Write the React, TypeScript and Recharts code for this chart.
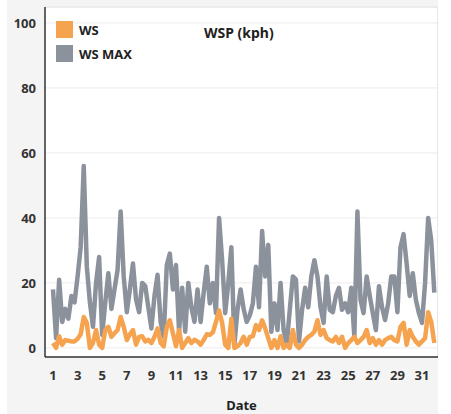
import React from 'react'
import { LineChart, Line, XAxis, YAxis, CartesianGrid, ReferenceLine } from 'recharts'

// 6-hourly samples starting on day 1
const wsMax = [
  18, 3, 21, 8, 12, 9, 16, 14, 22, 31,
  56, 25, 14, 6.5, 20, 28, 4, 14, 23, 12,
  18, 24, 42, 22, 11, 18, 26, 15, 11, 20,
  19, 12.5, 6, 16, 22.5, 8, 3.4, 25.5, 29, 18,
  25.5, 5, 18.5, 5, 20, 12.5, 8, 18, 8, 17,
  25, 13.7, 20, 10.7, 40, 27, 10.7, 20, 31, 1,
  11.7, 18, 12, 8, 10, 13.7, 25, 12.5, 36, 22,
  31.7, 5, 13.7, 5.5, 20, 5.5, 1, 11.7, 22, 21,
  2, 11.7, 18.5, 12.5, 22, 27, 22, 12.5, 7.7, 22,
  11.7, 11, 16, 18.5, 11.7, 13.7, 11, 18.5, 3.4, 42,
  14.8, 10.7, 22, 16, 10.7, 5.5, 19, 12.5, 8.6, 13.7,
  22, 22, 11, 31, 35, 26, 16, 23, 14.8, 10.7,
  7.7, 20, 40, 33, 17,
]

const ws = [
  1.5, 0, 3.6, 1, 2.4, 2.2, 2, 2, 2.8, 4.2,
  9.5, 7.7, 0, 1.5, 5.5, 1, 0, 5.5, 6.5, 3.4,
  4.5, 5.5, 9.5, 6.5, 2.4, 4.2, 5.5, 1, 3.4, 3.6,
  2, 2.5, 1.5, 3.4, 6, 1.5, 0.5, 6.5, 8.5, 4.5,
  0.5, 5.5, 0, 1.5, 3, 1.5, 2.5, 2, 1, 2.4,
  4.2, 4, 4.8, 8, 11.5, 7.7, 1, 0, 9, 0,
  0.5, 1.5, 3.4, 1, 3.4, 3.6, 7, 5.5, 8.5, 6,
  3, 0, 2.4, 0, 3.6, 0, 1, 0, 5.5, 1,
  0, 1, 2.4, 3.4, 4, 5, 8.5, 4, 5.5, 3,
  2.4, 2, 3.4, 1.5, 3.4, 0, 1.5, 2.4, 3.4, 1.5,
  2.4, 3.4, 5.5, 1.5, 3, 1, 2.4, 1, 2.4, 3,
  3.4, 2.4, 2, 6.5, 7.7, 1, 5.5, 3.4, 2, 1,
  2, 3, 11, 8, 1.5,
]

const dayTicks = [1, 3, 5, 7, 9, 11, 13, 15, 17, 19, 21, 23, 25, 27, 29, 31]
const yTicks = [0, 20, 40, 60, 80, 100]

const ORANGE = '#f5a34f'
const GRAY = '#8c929c'
const FONT = '"Noto Sans", sans-serif'

const data = wsMax.map((v, i) => ({ day: 1 + i / 4, wsMax: v, ws: ws[i] }))

const tickStyle = { fontSize: 13, fontWeight: 700, fill: '#333', fontFamily: FONT }

export default function App() {
  return (
    <div style={{ position: 'absolute', left: 7, top: 0, width: 431, height: 414, background: '#f4f4f4' }}>
      <LineChart width={431} height={414} data={data} margin={{ top: 7, right: 0, bottom: 0, left: 0 }}>
        <CartesianGrid vertical={false} stroke="#ececec" fill="#fff" />
        <XAxis
          dataKey="day"
          type="number"
          domain={[0.35, 32.3]}
          ticks={dayTicks}
          tickLine={false}
          tickMargin={8}
          height={57}
          axisLine={{ stroke: '#333', strokeWidth: 1.5 }}
          tick={tickStyle}
          interval={0}
          label={{ value: 'Date', position: 'insideBottom', offset: 4, style: { ...tickStyle, fill: '#222' } }}
        />
        <YAxis
          type="number"
          domain={[-2.8, 104.9]}
          ticks={yTicks}
          width={38}
          tickLine={false}
          tickMargin={3}
          axisLine={{ stroke: '#333', strokeWidth: 1.5 }}
          tick={tickStyle}
          allowDataOverflow
        />
        <ReferenceLine x={32.3} stroke="#d0d0d0" />
        <ReferenceLine y={104.9} stroke="#e6e6e6" />
        <Line dataKey="wsMax" type="linear" stroke={GRAY} strokeWidth={4.5} dot={false} isAnimationActive={false} strokeLinejoin="round" />
        <Line dataKey="ws" type="linear" stroke={ORANGE} strokeWidth={4.5} dot={false} isAnimationActive={false} strokeLinejoin="round" />
      </LineChart>
      <div style={{ position: 'absolute', left: 49, top: 21, fontFamily: FONT, fontSize: 13, fontWeight: 700, color: '#222' }}>
        <div style={{ display: 'flex', alignItems: 'center', height: 17, marginBottom: 7 }}>
          <span style={{ width: 17, height: 17, background: ORANGE, marginRight: 6 }} />WS
        </div>
        <div style={{ display: 'flex', alignItems: 'center', height: 17 }}>
          <span style={{ width: 17, height: 17, background: GRAY, marginRight: 6 }} />WS MAX
        </div>
      </div>
      <div style={{ position: 'absolute', left: 197, top: 23, fontFamily: FONT, fontSize: 14, fontWeight: 700, color: '#222' }}>
        WSP (kph)
      </div>
    </div>
  )
}
